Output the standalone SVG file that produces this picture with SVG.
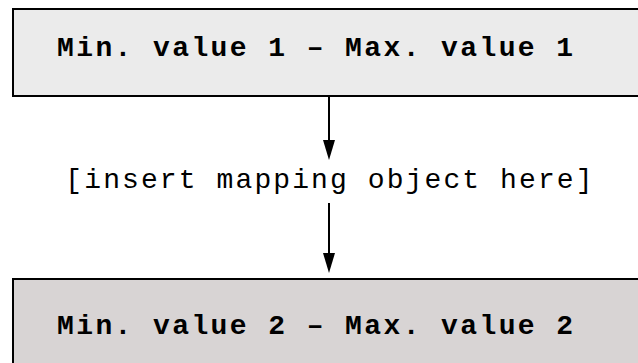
<svg xmlns="http://www.w3.org/2000/svg" width="638" height="363" viewBox="0 0 638 363">
<defs>
<style>
.box{stroke:#000;stroke-width:2}
.t{font-family:"Liberation Mono","Courier New",monospace;font-size:28px;letter-spacing:2.4px;fill:#000}
.m{letter-spacing:2.1px}
.b{font-weight:bold}
.c{stroke:#000;stroke-width:2;fill:none}
.h{fill:#000}
</style>
</defs>
<rect width="638" height="363" fill="#fff"/>
<g id="node1">
<rect class="box" x="13" y="9" width="640" height="87" fill="#ebebeb"/>
<text class="t b" x="57" y="56">Min. value 1 – Max. value 1</text>
</g>
<g id="label">
<text class="t m" x="330" y="188" text-anchor="middle">[insert mapping object here]</text>
</g>
<g id="node2">
<rect class="box" x="13" y="279" width="640" height="100" fill="#d8d4d4"/>
<text class="t b" x="57" y="334">Min. value 2 – Max. value 2</text>
</g>
<g id="connectors">
<line class="c" x1="329" y1="97" x2="329" y2="142"/>
<path class="h" d="M323,140 L335,140 L329,160 Z"/>
<line class="c" x1="329" y1="203" x2="329" y2="255"/>
<path class="h" d="M323,253 L335,253 L329,273 Z"/>
</g>
</svg>
